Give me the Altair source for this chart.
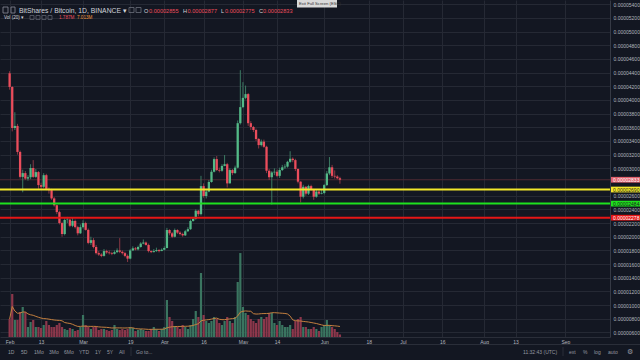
import altair as alt
import pandas as pd

# ---- data (prices in satoshi = 1e-8 BTC, volume in millions) ----
first_open = 4390
closes = [4190, 3590, 3620, 3240, 2875, 2930, 2850, 2870, 3005, 2875,
          2945, 2755, 2730, 2900, 2700, 2680, 2560, 2460, 2360, 2200,
          2040, 2245, 2250, 2160, 2230, 2140, 2050, 2140, 2200, 2100,
          1910, 1950, 1850, 1760, 1740, 1720, 1790, 1770, 1760, 1750,
          1775, 1800, 1780, 1760, 1720, 1680, 1800, 1830, 1815, 1850,
          1900, 1915, 1880, 1790, 1775, 1790, 1805, 1790, 1810, 1835,
          2098, 2050, 2000, 2098, 2060, 2040, 2020, 2080, 2110, 2230,
          2260, 2380, 2330, 2740, 2595, 2660, 2800, 2950, 3135, 2975,
          2965, 3035, 3060, 2780, 2975, 2930, 3010, 3660, 3895, 4030,
          4085, 3660, 3605, 3560, 3430, 3340, 3390, 3315, 2965, 2870,
          2940, 2950, 2890, 2975, 3015, 3025, 3095, 3140, 3120, 2990,
          2805, 2585, 2730, 2630, 2740, 2690, 2585, 2660, 2630, 2640,
          2755, 2925, 3015, 2890, 2880, 2855, 2833]
highs = [4420, 4200, 3820, 3650, 3260, 2980, 2960, 2900, 3060, 3120,
         2990, 2960, 2790, 2930, 2920, 2720, 2700, 2580, 2470, 2380,
         2220, 2270, 2290, 2260, 2280, 2250, 2160, 2180, 2240, 2220,
         2120, 2000, 1980, 1880, 1790, 1760, 1820, 1810, 1800, 1780,
         1800, 1830, 1980, 1800, 1780, 1740, 1820, 1860, 1850, 1870,
         1920, 1960, 1930, 1900, 1800, 1820, 1840, 1820, 1830, 1860,
         2130, 2110, 2070, 2120, 2110, 2080, 2060, 2100, 2140, 2250,
         2290, 2400, 2390, 2890, 2780, 2700, 2830, 2980, 3160, 3180,
         3010, 3060, 3195, 3080, 3000, 2990, 3040, 3700, 4435, 4260,
         4210, 4100, 3690, 3620, 3580, 3440, 3420, 3420, 3330, 2990,
         2960, 3000, 2980, 3010, 3050, 3060, 3110, 3250, 3160, 3140,
         3000, 2810, 2760, 2740, 2760, 2760, 2700, 2690, 2680, 2690,
         2770, 2960, 3165, 3050, 2970, 2900, 2877]
lows = [4150, 3540, 3560, 3200, 2850, 2650, 2830, 2820, 2840, 2860,
        2860, 2700, 2700, 2710, 2680, 2630, 2540, 2440, 2330, 2180,
        2000, 2020, 2200, 2140, 2140, 2120, 2020, 2040, 2120, 2090,
        1890, 1880, 1830, 1740, 1720, 1700, 1710, 1750, 1740, 1730,
        1740, 1760, 1760, 1740, 1700, 1630, 1670, 1790, 1800, 1800,
        1840, 1890, 1870, 1770, 1760, 1770, 1780, 1770, 1790, 1800,
        1830, 2020, 1980, 1990, 2040, 2020, 2000, 2010, 2070, 2100,
        2220, 2250, 2300, 2310, 2570, 2560, 2650, 2790, 2940, 2960,
        2940, 2950, 3030, 2720, 2780, 2900, 2920, 3000, 3640, 3880,
        4010, 3620, 3560, 3530, 3400, 3290, 3320, 3300, 2930, 2830,
        2470, 2900, 2870, 2860, 2960, 2990, 3010, 3080, 3090, 2960,
        2780, 2500, 2560, 2600, 2610, 2670, 2540, 2570, 2610, 2620,
        2620, 2740, 2900, 2860, 2850, 2840, 2775]
volumes_m = [12.6, 30.1, 11.9, 11.9, 17.5, 21.0, 17.5, 7.0, 10.5, 11.9,
             7.0, 7.0, 6.3, 8.4, 11.2, 8.4, 7.0, 7.0, 8.4, 9.8,
             7.0, 5.6, 4.9, 6.3, 5.6, 4.2, 4.9, 7.0, 15.4, 8.4,
             7.0, 5.6, 7.0, 7.0, 4.9, 5.6, 5.6, 4.9, 4.2, 4.9,
             8.4, 5.6, 4.9, 5.6, 4.9, 5.6, 7.0, 6.3, 4.2, 4.9,
             5.6, 4.9, 4.2, 4.2, 5.6, 7.0, 5.6, 4.2, 5.6, 7.0,
             25.9, 14.0, 11.2, 7.7, 7.0, 5.6, 8.4, 7.0, 5.6, 8.4,
             12.6, 18.2, 14.0, 44.8, 15.4, 11.2, 9.8, 11.2, 14.0, 12.6,
             9.8, 8.4, 11.2, 14.0, 11.2, 9.8, 14.0, 38.5, 58.8, 21.0,
             16.8, 15.4, 12.6, 11.2, 9.8, 12.6, 14.0, 12.6, 14.0, 16.8,
             16.8, 9.8, 8.4, 11.2, 8.4, 7.0, 7.0, 8.4, 5.6, 11.2,
             12.6, 14.0, 7.0, 7.0, 5.6, 5.6, 7.0, 5.6, 4.2, 7.0,
             8.4, 11.9, 8.4, 7.0, 5.6, 3.5, 1.787]

tick_days = [0, 12, 28, 46, 59, 74, 89, 102, 120, 137, 150, 165, 181, 193, 212]
tick_labels = ["Feb", "13", "Mar", "19", "Apr", "16", "May", "14", "Jun", "18",
               "Jul", "16", "Aug", "13", "Sep"]
price_ticks = [600, 800, 1000, 1200, 1400, 1600, 1800, 2000, 2200, 2400, 2600,
               3000, 3200, 3400, 3600, 3800, 4000, 4200, 4400, 4600, 4800,
               5000, 5200, 5400]
level_yellow = 2690
level_green = 2484
level_red = 2278
last_price = 2833

# ---- styles ----
BG = "#131722"
GRID = "#252934"
TXT = "#b2b5be"
UP = "#53b987"
DN = "#eb4d5c"
UPW = "#3b7a62"
DNW = "#8a3844"
VUP = "#3a7560"
VDN = "#8c374b"
FONT = "Liberation Sans"

opens = [first_open] + closes[:-1]
n = len(closes)
df = pd.DataFrame({
    "i": list(range(n)),
    "open": opens,
    "high": [max(h, o, c) for h, o, c in zip(highs, opens, closes)],
    "low": [min(l, o, c) for l, o, c in zip(lows, opens, closes)],
    "close": closes,
    "vol": volumes_m,
})

xs = alt.Scale(domain=[-1.76, 227.1], nice=False, zero=False)
ys = alt.Scale(domain=[534, 5461], nice=False, zero=False)
vs = alt.Scale(domain=[0, 236], nice=False, zero=True)

lab_expr = "[" + ",".join("'%s'" % t for t in tick_labels) + "][indexof([" + \
    ",".join(str(d) for d in tick_days) + "], datum.value)]"
xaxis = alt.Axis(values=tick_days, labelExpr=lab_expr, grid=True, gridColor=GRID,
                 gridWidth=1, domain=True, domainColor="#2a2e39", ticks=False,
                 labelColor=TXT, labelFontSize=5, labelPadding=2, title=None,
                 labelFont=FONT, labelAngle=0, labelOverlap=False, labelFlush=False)
yaxis = alt.Axis(orient="right", values=price_ticks,
                 labelExpr="format(datum.value/100000000, '.8f')", grid=True,
                 gridColor=GRID, gridWidth=1, domain=True, domainColor="#363a45",
                 ticks=False, labelFontSize=5, labelColor=TXT, labelPadding=3,
                 title=None, labelFont=FONT, labelAlign="left", labelOverlap=False)

X = alt.X("i:Q", scale=xs, axis=xaxis)
cond_body = alt.condition("datum.close >= datum.open", alt.value(UP), alt.value(DN))
cond_wick = alt.condition("datum.close >= datum.open", alt.value(UPW), alt.value(DNW))
cond_vol = alt.condition("datum.close >= datum.open", alt.value(VUP), alt.value(VDN))

vol_bars = alt.Chart(df).mark_bar(size=2.2).encode(
    x=X, y=alt.Y("vol:Q", scale=vs, axis=None), color=cond_vol)
vol_ma = alt.Chart(df).transform_window(
    ma="mean(vol)", frame=[-19, 0], sort=[alt.SortField("i")]
).mark_line(color="#c4803f", strokeWidth=1).encode(
    x=X, y=alt.Y("ma:Q", scale=vs, axis=None))
vol_layer = alt.layer(vol_bars, vol_ma)

Yp = lambda f: alt.Y(f, scale=ys, axis=yaxis)

cur_line = alt.Chart(pd.DataFrame({"p": [last_price]})).mark_rule(
    color="#4e2a33", strokeWidth=1).encode(y=Yp("p:Q"))
wicks = alt.Chart(df).mark_rule(strokeWidth=1).encode(
    x=X, y=Yp("low:Q"), y2="high:Q", color=cond_wick)
bodies = alt.Chart(df).mark_bar(size=2.3).encode(
    x=X, y=Yp("open:Q"), y2="close:Q", color=cond_body)


def level(p, col):
    return alt.Chart(pd.DataFrame({"p": [p]})).mark_rule(
        color=col, strokeWidth=2).encode(y=Yp("p:Q"))


def pbox(p, bg, fg):
    d = pd.DataFrame({"p": [p], "lo": [p - 42], "hi": [p + 42],
                      "t": [f"{p / 1e8:.8f}"]})
    r = alt.Chart(d).mark_rect(color=bg).encode(
        x=alt.value(611), x2=alt.value(640), y=Yp("lo:Q"), y2="hi:Q")
    t = alt.Chart(d).mark_text(align="left", baseline="middle", fontSize=5,
                               font=FONT, color=fg).encode(
        x=alt.value(613), y=Yp("p:Q"), text="t:N")
    return [r, t]


price_layer = alt.layer(
    cur_line, wicks, bodies,
    level(level_yellow, "#f3e82a"), level(level_green, "#1ee11e"),
    level(level_red, "#e51616"),
    *pbox(last_price, "#e0606c", "#ffffff"),
    *pbox(level_yellow, "#f3e82a", "#1b1b1b"),
    *pbox(level_green, "#1ee11e", "#1b1b1b"),
    *pbox(level_red, "#e51616", "#ffffff"),
)


def txt(s, x, y, size=5, col=TXT, font=FONT, weight="normal", align="left"):
    return alt.Chart(pd.DataFrame({"t": [s]})).mark_text(
        align=align, baseline="middle", fontSize=size, font=font, color=col,
        fontWeight=weight).encode(x=alt.value(x), y=alt.value(y), text="t:N")


def box(x1, y1, x2, y2, fill=None, stroke=None):
    kw = {}
    if fill:
        kw["fill"] = fill
    else:
        kw["fillOpacity"] = 0
    if stroke:
        kw["stroke"] = stroke
        kw["strokeWidth"] = 0.8
    return alt.Chart(pd.DataFrame({"a": [0]})).mark_rect(**kw).encode(
        x=alt.value(x1), x2=alt.value(x2), y=alt.value(y1), y2=alt.value(y2))


def hline(x1, x2, y, col="#2a2e39"):
    return alt.Chart(pd.DataFrame({"a": [0]})).mark_rule(color=col, strokeWidth=1).encode(
        x=alt.value(x1), x2=alt.value(x2), y=alt.value(y))


def vline(x, y1, y2, col="#2a2e39"):
    return alt.Chart(pd.DataFrame({"a": [0]})).mark_rule(color=col, strokeWidth=1).encode(
        x=alt.value(x), y=alt.value(y1), y2=alt.value(y2))


HDR = "#d1d4dc"
RED = "#eb4d5c"
annos = [
    box(3, 7, 8, 13, stroke="#8a8e99"),
    box(11, 7, 15, 13, stroke="#8a8e99"),
    txt("BitShares / Bitcoin, 1D, BINANCE \u25be", 19, 10.5, size=6.8, col=HDR),
    box(129, 7.5, 134, 12.5, stroke="#6b6f7a"),
    box(136, 7.5, 141, 12.5, stroke="#6b6f7a"),
    txt("O", 144, 10.5, size=5.6, col=HDR), txt("0.00002855", 149, 10.5, size=5.6, col=RED),
    txt("H", 183, 10.5, size=5.6, col=HDR), txt("0.00002877", 187.5, 10.5, size=5.6, col=RED),
    txt("L", 221, 10.5, size=5.6, col=HDR), txt("0.00002775", 225, 10.5, size=5.6, col=RED),
    txt("C", 259, 10.5, size=5.6, col=HDR), txt("0.00002833", 263, 10.5, size=5.6, col=RED),
    txt("Vol (20) \u25be", 4, 17.5, size=4.6, col=HDR),
    box(30, 15.5, 34, 19.5, stroke="#5d616c"),
    box(36, 15.5, 40, 19.5, stroke="#5d616c"),
    box(42, 15.5, 46, 19.5, stroke="#5d616c"),
    box(48, 15.5, 52, 19.5, stroke="#5d616c"),
    txt("1.787M", 59, 17.5, size=4.6, col=RED),
    txt("7.013M", 77, 17.5, size=4.6, col="#f0953a"),
    box(297, 0, 337, 7.5, fill="#d9d9d9"),
    txt("Exit Full Screen (ESC)", 299, 3.8, size=4.2, col="#333333"),
    hline(0, 640, 344.5),
    txt("1D", 8, 351.5, col="#9598a1"), txt("5D", 21, 351.5, col="#9598a1"),
    txt("1Mo", 34, 351.5, col="#9598a1"), txt("3Mo", 49, 351.5, col="#9598a1"),
    txt("6Mo", 64, 351.5, col="#9598a1"), txt("YTD", 79, 351.5, col="#9598a1"),
    txt("1Y", 95, 351.5, col="#9598a1"), txt("5Y", 107, 351.5, col="#9598a1"),
    txt("All", 119, 351.5, col="#9598a1"),
    vline(131, 347, 356),
    txt("Go to...", 136, 351.5, col="#9598a1"),
    txt("11:32:43 (UTC)", 523, 351.5, col="#9598a1"),
    vline(563, 347, 356),
    txt("ext", 569, 351.5, col="#9598a1"), txt("%", 583, 351.5, col="#9598a1"),
    txt("log", 594, 351.5, col="#9598a1"), txt("auto", 608, 351.5, col="#9598a1"),
    txt("\u2699", 627, 351.5, size=7, col="#9598a1", font="DejaVu Sans"),
]

chart = alt.layer(vol_layer, price_layer, *annos).resolve_scale(
    y="independent"
).properties(
    width=610, height=337, background=BG,
    padding={"left": 0, "top": 0, "right": 30, "bottom": 23},
    autosize=alt.AutoSizeParams(type="none"),
).configure_view(stroke=None, fill=BG)

chart.save("out.html", embed_options={"renderer": "svg", "actions": False})
